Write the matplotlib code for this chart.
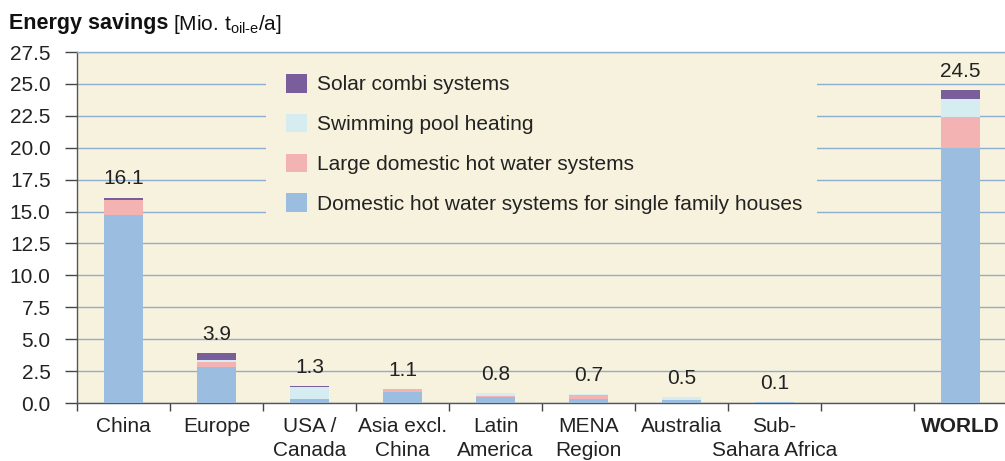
import matplotlib
matplotlib.use("Agg")
import matplotlib.pyplot as plt
from matplotlib.patches import Patch, Rectangle
import numpy as np

plt.rcParams['font.family'] = ['Liberation Sans', 'DejaVu Sans']
plt.rcParams['mathtext.fontset'] = 'custom'
plt.rcParams['mathtext.rm'] = 'Liberation Sans'
plt.rcParams['mathtext.it'] = 'Liberation Sans'

# Regions (the blank slot separates the regions from the world total)
regions = ["China", "Europe", "USA /\nCanada", "Asia excl.\nChina", "Latin\nAmerica",
           "MENA\nRegion", "Australia", "Sub-\nSahara Africa", "", "WORLD"]

# Energy savings by system type [Mio. t oil-e / a]
dhw_single = [14.7, 2.8, 0.30, 0.90, 0.45, 0.30, 0.25, 0.10, 0.0, 20.0]
dhw_large  = [1.2, 0.45, 0.00, 0.20, 0.10, 0.30, 0.00, 0.00, 0.0, 2.4]
pool       = [0.0, 0.15, 0.95, 0.00, 0.25, 0.10, 0.25, 0.00, 0.0, 1.4]
combi      = [0.2, 0.50, 0.05, 0.00, 0.00, 0.00, 0.00, 0.00, 0.0, 0.7]
totals     = [16.1, 3.9, 1.3, 1.1, 0.8, 0.7, 0.5, 0.1, None, 24.5]

series_names = ["Domestic hot water systems for single family houses",
                "Large domestic hot water systems",
                "Swimming pool heating",
                "Solar combi systems"]
series_colors = ["#9bbde0", "#f4b3b3", "#d5ecf0", "#7a5e9b"]

y_ticks = np.arange(0, 27.6, 2.5)

bg = "#f7f2dd"
grid_c = "#8eaed0"
fs = 15
txt_c = "#222222"

fig = plt.figure(figsize=(10.05, 4.61), dpi=100)
W, H = 1005, 461
ax = fig.add_axes([77 / W, 1 - 403 / H, 930 / W, 351 / H])
ax.set_facecolor(bg)

x = np.arange(len(regions))
bottom = np.zeros(len(regions))
for vals, col in zip([dhw_single, dhw_large, pool, combi], series_colors):
    v = np.array(vals, dtype=float)
    ax.bar(x, v, width=0.41, bottom=bottom, color=col, zorder=3, linewidth=0)
    bottom += v

for xi, t in zip(x, totals):
    if t is None:
        continue
    ax.annotate(f"{t:.1f}", (xi, t), xytext=(0, 6.5), textcoords="offset points",
                ha="center", va="bottom", fontsize=fs, color=txt_c, zorder=5)

ax.set_xlim(-0.5, 9.5)
ax.set_ylim(0, 27.5)
ax.set_yticks(y_ticks)
ax.set_yticklabels([f"{v:.1f}" for v in y_ticks], fontsize=fs, color=txt_c)
ax.yaxis.grid(True, color=grid_c, linewidth=1.0, zorder=1)
ax.set_axisbelow(True)

# Category separators as ticks; region names written line by line below the axis
ax.set_xticks(np.arange(-0.5, 9.6, 1.0))
ax.set_xticklabels([])
ax.tick_params(axis="x", length=6, direction="out", color="#444444", width=1)
ax.tick_params(axis="y", length=9, direction="out", color="#444444", width=1, pad=10)
line_offsets = [-21.0, -38.5]  # baselines below the axis, in points
for xi, name in zip(x, regions):
    for k, line in enumerate(name.split("\n")):
        if not line:
            continue
        ax.annotate(line, (xi, 0), xycoords=("data", "axes fraction"),
                    xytext=(0, line_offsets[k]), textcoords="offset points",
                    ha="center", va="baseline", fontsize=fs, color=txt_c,
                    fontweight="bold" if name == "WORLD" else "normal",
                    annotation_clip=False)

ax.spines["right"].set_visible(False)
ax.spines["top"].set_color(grid_c)
ax.spines["top"].set_linewidth(1.0)
for s in ["left", "bottom"]:
    ax.spines[s].set_color("#555555")
    ax.spines[s].set_linewidth(1.0)

# Legend panel hides the gridlines underneath it
to_ax = lambda px, py: ((px - 77) / 930, (403 - py) / 351)
x0, y0 = to_ax(266, 225)
x1, y1 = to_ax(817, 62)
ax.add_patch(Rectangle((x0, y0), x1 - x0, y1 - y0, transform=ax.transAxes,
                       facecolor=bg, edgecolor="none", zorder=2))
handles = [Patch(facecolor=c, edgecolor="none") for c in series_colors][::-1]
leg = ax.legend(handles, series_names[::-1], loc="upper left",
                bbox_to_anchor=to_ax(286, 74), frameon=False, fontsize=fs,
                handlelength=1.0, handleheight=1.0, handletextpad=0.5,
                labelspacing=0.93, borderaxespad=0, borderpad=0)
leg.set_zorder(6)
for t in leg.get_texts():
    t.set_color(txt_c)

# Heading: bold title followed by the unit
t1 = fig.text(9 / W, 1 - 24 / H, "Energy savings", fontsize=15.5, fontweight="bold",
              va="center", ha="left", color="#111111")
fig.canvas.draw()
bb = t1.get_window_extent()
fig.text((bb.x1 + 5) / W, 1 - 24 / H, r"[Mio. t$_{\mathrm{oil\text{-}e}}$/a]",
         fontsize=fs, va="center", ha="left", color="#111111")

fig.savefig("out.png", dpi=100, facecolor="white")
